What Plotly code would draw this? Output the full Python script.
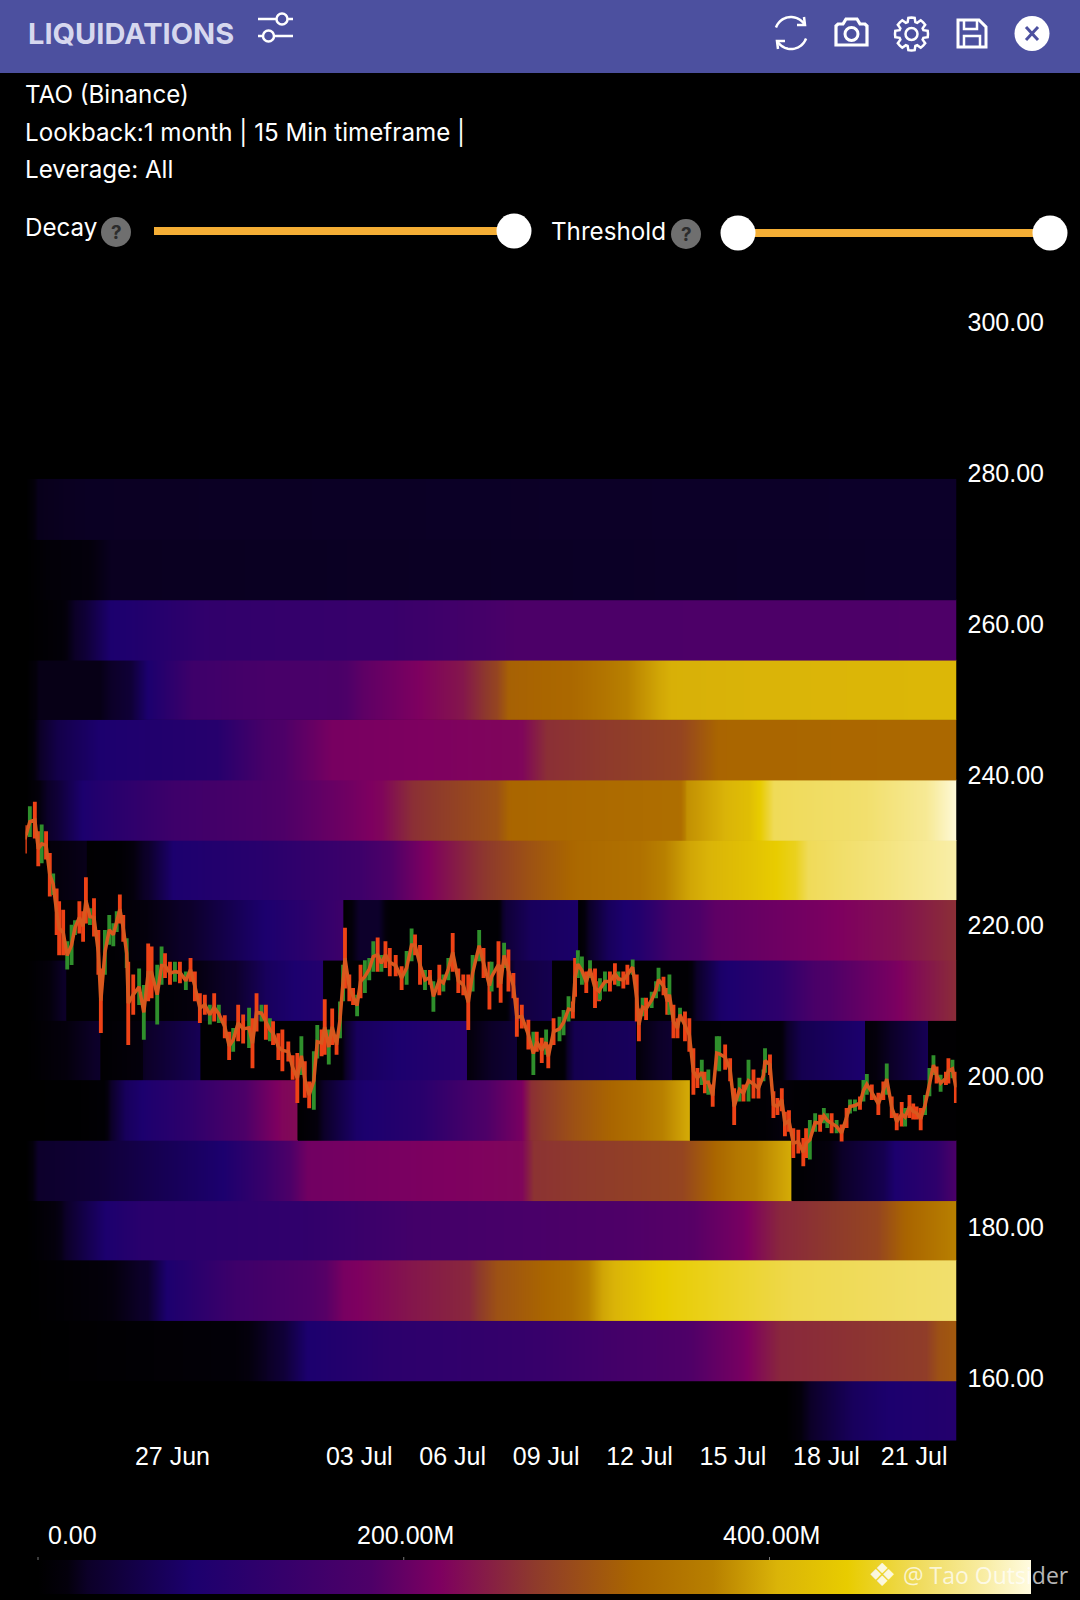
import math
import pandas as pd
import plotly.graph_objects as go

W, H = 1080, 1600

# ---- data -------------------------------------------------------------
# day numbers count from 1 June (27 = 27 Jun, 33 = 3 Jul, 51 = 21 Jul)
BASE = pd.Timestamp("2024-06-01")
tick_days = [27, 33, 36, 39, 42, 45, 48, 50.82]
tick_labels = ["27 Jun", "03 Jul", "06 Jul", "09 Jul", "12 Jul", "15 Jul", "18 Jul", "21 Jul"]
x_range_days = [22.28, 52.18]
price_ticks = [160, 180, 200, 220, 240, 260, 280, 300]
price_range = [151.64, 305.65]
colorbar_ticks = [0, 200, 400]
colorbar_labels = ["0.00", "200.00M", "400.00M"]
value_max = 543

band_edges = [151.7, 159.6, 167.6, 175.6, 183.5, 191.5, 199.5, 207.4, 215.4,
              223.4, 231.3, 239.3, 247.3, 255.2, 263.2, 271.2, 279.2]

# liquidation value (in millions) per price band; a repeated day is a reset
band0_days = [22.28, 46.7, 47.7, 48.85, 50.05, 52.18]
band0_vals = [0, 0, 35, 70, 85, 100]
band1_days = [22.28, 29, 30, 30.55, 31.35, 33.9, 38.4, 43.7, 45.3, 46.5, 51.2, 51.6, 52.18]
band1_vals = [0, 10, 25, 40, 85, 115, 135, 185, 215, 255, 275, 300, 310]
band2_days = [22.28, 24.66, 26.2, 26.8, 29, 31.9, 32.5, 34.7, 36.5, 37.4, 39.8, 40.8, 42.55, 43, 46.9, 52.18]
band2_vals = [0, 12, 30, 85, 150, 190, 215, 240, 255, 300, 340, 395, 440, 445, 475, 490]
band3_days = [22.28, 23.4, 24.26, 24.85, 26, 31.15, 34.7, 43.7, 45.3, 46.5, 49.6, 50.4, 52.18]
band3_vals = [0, 20, 60, 85, 110, 125, 160, 190, 215, 255, 285, 320, 370]
band4_days = [22.28, 22.7, 24.66, 28.6, 29.97, 31.35, 38.2, 38.6, 43.35, 44.5, 45.1, 46.89, 46.89, 48, 49.8, 50.2, 51.5, 52.18]
band4_vals = [0, 30, 40, 85, 140, 210, 225, 265, 285, 330, 355, 400, 2, 15, 60, 85, 120, 180]
band5_days = [22.28, 24, 24.8, 25.5, 26.2, 27.5, 29, 30.5, 31.03, 31.03, 31.6, 32.9, 35, 36.65, 38.2, 38.5, 39.9, 42, 43.62, 43.62, 46, 46.5, 47, 52.18]
band5_vals = [0, 2, 6, 70, 90, 120, 170, 225, 230, 2, 15, 80, 110, 170, 215, 262, 300, 345, 400, 2, 5, 15, 5, 2]
band6_days = [22.28, 23.2, 24.7, 24.7, 26.05, 26.05, 27.9, 27.9, 31.5, 32.4, 32.9, 36.46, 36.46, 38.07, 38.07, 39.5, 39.9, 41.9, 41.9, 43.05, 43.05, 46.5, 47.2, 49.25, 49.25, 50, 51.27, 51.27, 52.18]
band6_vals = [0, 12, 30, 3, 15, 25, 65, 3, 5, 10, 70, 110, 15, 40, 3, 5, 60, 70, 15, 35, 3, 10, 60, 85, 10, 25, 65, 3, 3]
band7_days = [22.28, 22.9, 23.6, 23.6, 26, 27, 29, 30, 31.84, 31.84, 37.7, 38, 39.2, 39.2, 43.5, 44.6, 46.5, 47.6, 50.1, 52.18]
band7_vals = [0, 12, 30, 3, 5, 10, 30, 70, 100, 3, 5, 45, 60, 3, 5, 80, 120, 175, 215, 260]
band8_days = [22.28, 23.5, 25, 26.3, 27.56, 29.5, 31.1, 32.5, 32.5, 33, 33.6, 34, 37.4, 37.7, 38.5, 40.03, 40.03, 41, 42, 43, 44.4, 47.7, 50.3, 52.18]
band8_vals = [0, 3, 5, 18, 30, 75, 110, 150, 2, 30, 30, 5, 5, 40, 70, 80, 3, 70, 100, 160, 195, 215, 235, 262]
band9_days = [22.28, 23.07, 23.07, 24.25, 24.25, 25.3, 26.2, 27, 30, 33, 35, 36.7, 38.4, 40, 42, 43.6, 45.5, 47, 47.4, 50, 52.18]
band9_vals = [0, 0, 15, 22, 3, 5, 30, 85, 110, 150, 215, 262, 300, 330, 345, 395, 425, 455, 480, 500, 520]
band10_days = [22.28, 23.3, 24.1, 24.66, 27, 29.97, 32.7, 33.7, 34.7, 37.4, 37.8, 43.3, 43.5, 45.5, 45.9, 46.3, 49.25, 51.2, 52.18]
band10_vals = [0, 40, 85, 100, 150, 175, 210, 225, 262, 300, 325, 340, 380, 420, 445, 480, 490, 510, 540]
band11_days = [22.28, 22.7, 23.3, 24.66, 28.4, 29.97, 32.1, 38.2, 39, 43.3, 44.5, 52.18]
band11_vals = [0, 25, 55, 85, 105, 170, 215, 225, 262, 285, 325, 330]
band12_days = [22.28, 22.7, 24.66, 25.64, 26.2, 27.6, 29.97, 32.3, 33.1, 34.9, 36.3, 37.4, 37.8, 39.8, 40.8, 41.6, 42.6, 43, 52.18]
band12_vals = [0, 20, 20, 40, 85, 150, 170, 175, 195, 220, 240, 285, 320, 330, 350, 370, 395, 402, 410]
band13_days = [22.28, 23.4, 24.2, 25, 26, 28, 32, 33.9, 37, 38, 52.18]
band13_vals = [0, 10, 40, 85, 95, 125, 135, 140, 165, 178, 182]
band14_days = [22.28, 22.98, 24.25, 25, 52.18]
band14_vals = [0, 10, 15, 24, 28]
band15_days = [22.28, 22.65, 24, 52.18]
band15_vals = [0, 22, 25, 28]

# price candles: day, high, low, up (1) or down (0)
candle_days = [22.26,22.42,22.58,22.69,22.80,22.94,23.06,23.17,23.28,23.36,23.49,23.62,23.76,23.87,24.01,24.13,24.22,24.35,24.48,24.62,24.70,24.83,24.97,25.10,25.21,25.31,25.42,25.53,25.58,25.74,25.93,26.08,26.22,26.33,26.51,26.65,26.76,26.92,27.08,27.24,27.43,27.58,27.72,27.88,28.04,28.20,28.34,28.49,
  28.68,28.82,28.95,29.11,29.27,29.46,29.57,29.70,29.86,30.00,30.13,30.23,30.40,30.53,30.72,30.86,31.01,31.14,31.25,31.39,31.54,31.65,31.79,31.89,32.02,32.13,32.27,32.38,32.48,32.54,32.68,32.80,32.93,33.04,33.18,33.32,33.45,33.59,33.71,33.84,33.98,34.17,34.36,34.52,
  34.68,34.79,34.95,35.11,35.27,35.38,35.57,35.70,35.86,36.00,36.18,36.34,36.50,36.64,36.85,36.99,37.18,37.25,37.47,37.54,37.65,37.79,37.95,38.06,38.22,38.43,38.59,38.70,38.86,39.00,39.07,39.24,39.43,39.56,39.72,39.86,39.93,40.02,40.15,40.29,40.41,40.57,40.70,
  40.73,40.89,41.05,41.21,41.32,41.48,41.61,41.78,41.91,41.98,42.10,42.21,42.39,42.53,42.61,42.77,42.89,42.96,43.09,43.22,43.30,43.46,43.60,43.73,43.86,44.00,44.10,44.21,44.35,44.48,44.56,44.75,44.91,45.04,45.21,45.34,45.50,45.66,45.82,45.98,46.03,46.19,46.30,46.43,46.57,46.67,46.80,
  46.94,47.10,47.26,47.35,47.47,47.64,47.80,47.92,48.03,48.17,48.33,48.49,48.65,48.76,48.92,49.08,49.19,49.30,49.46,49.67,49.83,49.94,50.10,50.26,50.42,50.53,50.67,50.79,50.90,51.03,51.17,51.31,51.44,51.54,51.67,51.84,51.92,52.05,52.16]
candle_high = [233.1,235.6,236.2,232.3,233.2,232.3,229.4,226.7,224.7,223.0,221.9,217.7,219.9,220.5,223.0,221.7,226.2,222.1,223.4,219.2,214.1,219.2,221.2,220.1,221.7,223.9,221.2,218.1,215.0,213.3,214.1,211.9,217.4,217.0,214.6,217.0,216.1,215.0,215.0,215.0,213.7,215.5,213.7,210.8,210.6,209.3,210.8,209.3,
  207.9,205.7,206.2,209.3,208.0,208.9,207.5,210.8,209.3,209.3,207.5,207.1,205.5,206.0,204.4,202.6,202.9,205.1,201.8,199.1,203.1,206.6,206.0,210.0,206.0,208.8,205.3,209.7,214.6,219.5,213.3,211.5,210.6,214.6,215.2,215.5,217.7,218.2,215.9,217.7,216.8,215.9,214.4,216.4,
  219.4,218.6,217.2,213.9,213.9,212.4,214.6,213.3,215.5,218.8,214.1,213.3,213.3,215.9,219.2,216.8,215.0,215.0,217.7,214.6,217.5,216.6,213.5,210.2,209.3,207.3,205.7,205.7,204.9,206.0,204.0,207.5,207.7,208.6,210.4,209.7,215.5,216.5,215.7,213.7,215.2,214.1,212.4,
  212.8,213.7,213.7,214.8,213.7,213.7,214.6,215.3,213.3,208.8,210.2,210.2,211.0,212.4,214.2,213.0,211.5,213.3,209.3,207.5,208.9,208.4,207.5,203.5,200.9,202.0,200.4,200.7,198.7,205.1,205.1,204.0,202.2,198.2,199.6,198.7,202.0,200.7,199.6,200.7,203.5,202.7,197.8,196.9,198.2,195.1,195.3,
  192.9,192.7,191.6,192.9,194.0,194.9,194.7,195.6,194.9,194.9,194.0,193.4,195.6,196.7,196.7,197.1,199.3,200.1,198.7,197.6,199.1,201.5,197.1,194.9,196.4,195.6,197.3,196.2,195.8,195.6,197.3,200.9,202.6,201.1,200.0,200.4,202.2,202.0,200.4]
candle_low = [229.8,232.0,231.8,228.1,228.5,229.0,224.1,224.3,219.0,216.3,216.3,214.4,215.0,219.0,219.2,218.1,220.5,220.3,218.8,213.7,206.0,213.7,217.7,217.5,219.4,220.5,218.1,214.6,204.4,208.4,209.7,205.1,210.2,210.6,207.1,212.4,213.3,212.4,212.8,212.6,211.7,212.8,210.2,207.3,208.4,207.1,207.5,207.3,
  205.3,202.4,203.5,204.9,204.6,204.0,201.3,206.2,207.5,205.1,204.9,204.4,202.4,200.9,202.2,199.8,196.7,200.4,197.4,196.0,195.8,202.6,202.9,203.1,201.8,204.4,203.1,205.3,210.2,211.9,210.2,209.7,208.2,210.6,211.3,213.0,214.1,214.1,214.1,214.6,213.5,213.5,211.7,212.4,
  215.5,216.3,212.4,211.7,212.4,208.8,211.0,211.5,213.0,214.1,211.3,211.0,206.4,211.5,215.5,213.3,209.1,211.5,212.0,210.0,214.6,211.5,210.6,205.5,206.6,203.8,200.4,203.5,202.0,203.1,201.3,204.4,204.9,205.7,207.5,207.9,210.8,213.3,212.4,211.3,213.3,209.3,210.2,
  210.4,211.5,211.5,212.4,212.2,211.9,212.4,213.7,207.5,204.9,208.2,207.7,209.3,210.6,211.5,211.0,208.4,208.4,205.3,205.3,207.5,204.9,203.5,197.8,198.7,199.1,198.0,197.8,196.2,201.1,200.9,201.1,199.6,193.8,196.9,196.9,196.9,197.3,197.3,199.6,200.7,200.4,194.7,195.1,195.6,192.3,192.9,
  189.4,190.0,188.3,189.4,189.2,192.9,192.9,194.0,193.4,192.7,192.7,191.6,193.4,195.3,195.6,195.8,196.9,197.8,197.1,195.1,197.1,197.8,194.7,193.1,193.6,193.6,194.7,194.5,194.5,193.1,195.1,197.6,200.4,199.3,198.2,199.1,199.3,200.0,196.7]
candle_up = [0,1,0,0,1,0,0,1,0,0,0,1,1,1,0,0,0,1,0,0,0,1,1,1,1,0,0,1,0,0,1,1,0,0,1,1,0,0,1,0,1,0,0,0,0,1,0,1,
  0,0,1,0,0,1,0,0,1,0,1,0,0,0,0,0,0,1,0,0,1,1,0,0,1,0,0,1,1,0,0,0,1,0,1,1,1,0,1,0,0,0,0,1,
  1,0,0,1,0,1,0,1,1,0,0,0,0,1,1,0,0,1,0,0,1,0,0,0,0,0,1,0,0,1,0,0,1,1,1,0,0,1,1,0,1,0,0,1,
  1,0,0,1,0,0,1,0,0,1,0,1,1,1,0,0,1,0,0,1,0,0,0,0,1,0,1,0,1,1,0,0,0,1,0,1,0,0,1,1,0,0,0,0,0,0,0,
  0,0,0,1,1,0,1,1,0,1,0,0,1,1,0,1,1,0,0,0,1,0,0,0,1,0,0,0,0,1,1,1,0,1,0,0,1,0,0]

bands = [(band0_days, band0_vals), (band1_days, band1_vals), (band2_days, band2_vals),
         (band3_days, band3_vals), (band4_days, band4_vals), (band5_days, band5_vals),
         (band6_days, band6_vals), (band7_days, band7_vals), (band8_days, band8_vals),
         (band9_days, band9_vals), (band10_days, band10_vals), (band11_days, band11_vals),
         (band12_days, band12_vals), (band13_days, band13_vals), (band14_days, band14_vals),
         (band15_days, band15_vals)]

# ---- style ------------------------------------------------------------
HEADER = "#4c509f"
ORANGE = "#f4ae35"
WHITE = "#ffffff"
colorscale = [[0.0, "#000000"], [0.03, "#04000c"], [0.05, "#0c0028"], [0.156, "#1c006e"],
              [0.336, "#4e0068"], [0.405, "#7e0060"], [0.50, "#8e3a2c"], [0.60, "#aa6600"],
              [0.68, "#b88000"], [0.745, "#dab408"], [0.815, "#e8cc00"], [0.89, "#f0dc60"],
              [0.95, "#f8eca0"], [1.0, "#fffbe0"]]

BAR_LEFT, BAR_LEN, BAR_TOP, BAR_BOTTOM = 38, 993, 1560, 1594


def when(d):
    return BASE + pd.Timedelta(days=d - 1)


def fx(x):
    return x / W


def fy(y):
    return 1 - y / H


fig = go.Figure()

# heatmap bands, one smoothed strip per unbroken run of days
for i, (days, vals) in enumerate(bands):
    lo, hi = band_edges[i], band_edges[i + 1]
    runs, start = [], 0
    for k in range(1, len(days)):
        if days[k] == days[k - 1]:
            runs.append((start, k))
            start = k
    runs.append((start, len(days)))
    for a, b in runs:
        d, v = days[a:b], vals[a:b]
        xs = [d[0]] + [d[0] + 0.002] + d[1:-1] + [d[-1] - 0.002] + [d[-1]]
        row = [v[0]] + [v[0]] + v[1:-1] + [v[-1]] + [v[-1]]
        fig.add_trace(go.Heatmap(
            x=[when(q) for q in xs],
            y=[lo - 0.06, lo - 0.058, hi + 0.058, hi + 0.06],
            z=[row, row, row, row],
            zsmooth="best", coloraxis="coloraxis", hoverinfo="skip"))

candle_x = [when(d) for d in candle_days]
# body of the price path, so the candles read as one continuous ribbon
fig.add_trace(go.Scatter(
    x=candle_x, y=[(a + b) / 2 for a, b in zip(candle_high, candle_low)], mode="lines",
    line=dict(color="#d8581e", width=3.5), hoverinfo="skip", showlegend=False))
fig.add_trace(go.Candlestick(
    x=candle_x,
    open=[lo if up else hi for hi, lo, up in zip(candle_high, candle_low, candle_up)],
    close=[hi if up else lo for hi, lo, up in zip(candle_high, candle_low, candle_up)],
    high=candle_high, low=candle_low, whiskerwidth=0,
    increasing=dict(line=dict(color="#2f8f2c", width=3.4), fillcolor="#2f8f2c"),
    decreasing=dict(line=dict(color="#ee4216", width=3.4), fillcolor="#ee4216"),
    showlegend=False))

shapes = []
annotations = []


def text(x, y, s, size, color=WHITE, family="Inter", anchor="left", **kw):
    annotations.append(dict(xref="paper", yref="paper", x=fx(x), y=fy(y), text=s, showarrow=False,
                            xanchor=anchor, yanchor="middle", align="left",
                            font=dict(family=family, size=size, color=color), **kw))


def circle(cx, cy, r, fill=None, line=None, w=0):
    shapes.append(dict(type="circle", xref="paper", yref="paper", x0=fx(cx - r), x1=fx(cx + r),
                       y0=fy(cy + r), y1=fy(cy - r), fillcolor=fill or "rgba(0,0,0,0)",
                       line=dict(color=line or "rgba(0,0,0,0)", width=w), layer="above"))


def poly(pts, color=WHITE, w=3, close=False, fill=None):
    d = "M" + " L".join(f"{fx(x):.5f},{fy(y):.5f}" for x, y in pts) + (" Z" if close else "")
    shapes.append(dict(type="path", xref="paper", yref="paper", path=d,
                       line=dict(color=color, width=w), fillcolor=fill or "rgba(0,0,0,0)", layer="above"))


def arc(cx, cy, r, a0, a1, n=24):
    return [(cx + r * math.cos(math.radians(a0 + (a1 - a0) * i / n)),
             cy + r * math.sin(math.radians(a0 + (a1 - a0) * i / n))) for i in range(n + 1)]


# header
shapes.append(dict(type="rect", xref="paper", yref="paper", x0=0, x1=1, y0=fy(73), y1=1,
                   fillcolor=HEADER, line=dict(width=0), layer="above"))
text(26, 33, "<b>LIQUIDATIONS</b>", 29, "#d6d7ee")
# filter icon
poly([(258, 19), (293, 19)], w=2.5)
poly([(258, 36), (293, 36)], w=2.5)
circle(282, 19, 5.5, HEADER, WHITE, 2.5)
circle(268.5, 36, 5.5, HEADER, WHITE, 2.5)
# refresh icon
poly(arc(791, 33, 16, 200, 325), w=2.5)
poly(arc(791, 33, 16, 20, 150), w=2.5)
poly([(804, 17), (805, 25), (797, 25)], w=2.5)
poly([(778, 49), (777, 41), (785, 41)], w=2.5)
# camera icon
poly([(838, 24), (843, 24), (846, 19), (857, 19), (860, 24), (865, 24), (867, 26), (867, 45), (836, 45), (836, 26)], w=3.2, close=True)
circle(851.5, 34, 6.5, None, WHITE, 3)
# gear icon
gear = []
for i in range(8):
    a = i * 45
    gear += arc(911.5, 34, 16.5, a - 11, a + 11, 2) + arc(911.5, 34, 12.5, a + 18, a + 27, 1)
poly(gear, w=2.5, close=True)
circle(911.5, 34, 6, None, WHITE, 2.5)
# save icon
poly([(958, 20), (979, 20), (986, 27), (986, 47), (958, 47)], w=3, close=True)
poly([(964, 20), (964, 29), (977, 29), (977, 20)], w=2.5)
poly([(964, 47), (964, 36), (980, 36), (980, 47)], w=2.5)
# close icon
circle(1032, 33.5, 17.5, WHITE)
poly([(1026, 27), (1038, 40)], HEADER, 3)
poly([(1038, 27), (1026, 40)], HEADER, 3)

# info lines
text(23, 95, "TAO (Binance)", 24.2)
text(23, 132.5, "Lookback:1 month | 15 Min timeframe |", 24.2)
text(23, 170, "Leverage: All", 24.2)

# sliders
text(23, 228, "Decay", 24.2)
circle(116, 232, 15, "#6f6f6f")
text(116, 232, "<b>?</b>", 19, "#2c2c2c", anchor="center")
poly([(154, 231), (500, 231)], ORANGE, 8)
circle(514, 231, 17.5, WHITE)
text(549, 231, "Threshold", 24.2)
circle(686, 234, 15, "#6f6f6f")
text(686, 234, "<b>?</b>", 19, "#2c2c2c", anchor="center")
poly([(738, 233), (1050, 233)], ORANGE, 8)
circle(738, 233, 17.5, WHITE)
circle(1050, 233, 17.5, WHITE)

# colorbar tick marks and labels sit above the bar
for v, lab in zip(colorbar_ticks, colorbar_labels):
    tx = BAR_LEFT + BAR_LEN * v / value_max
    poly([(tx, BAR_TOP - 3), (tx, BAR_TOP)], "#777777", 1)
    text(72 if v == 0 else tx + 2, 1535, lab, 25, WHITE, "Liberation Sans", anchor="center")

# watermark
text(882, 1575, "❖", 32, "rgba(255,255,255,0.85)", "DejaVu Sans", anchor="center")
text(901, 1575, "@ Tao Outsider", 23, "rgba(255,255,255,0.72)", "Open Sans")

fig.update_layout(
    width=W, height=H, autosize=False, showlegend=False,
    margin=dict(l=0, r=0, t=0, b=0, pad=0, autoexpand=False),
    paper_bgcolor="#000000", plot_bgcolor="#000000",
    font=dict(family="Liberation Sans", size=25, color=WHITE),
    shapes=shapes, annotations=annotations,
    xaxis=dict(domain=[25.5 / W, 956.5 / W], type="date", range=[when(x_range_days[0]), when(x_range_days[1])],
               tickmode="array", tickvals=[when(d) for d in tick_days], ticktext=tick_labels,
               showgrid=False, zeroline=False, showline=False, ticks="", rangeslider=dict(visible=False),
               ticklabelstandoff=-2,
               tickfont=dict(family="Liberation Sans", size=25, color=WHITE), tickangle=0),
    yaxis=dict(domain=[1 - 1441 / H, 1 - 280 / H], range=price_range, side="right",
               tickmode="array", tickvals=price_ticks, ticktext=[f"{v:.2f}" for v in price_ticks],
               showgrid=False, zeroline=False, showline=False, ticks="", ticklabelstandoff=10,
               tickfont=dict(family="Liberation Sans", size=25, color=WHITE)),
    coloraxis=dict(cmin=0, cmax=value_max, colorscale=colorscale,
                   colorbar=dict(orientation="h", x=BAR_LEFT / W, xanchor="left", y=fy(BAR_BOTTOM), yanchor="bottom",
                                 lenmode="pixels", len=BAR_LEN, thickness=BAR_BOTTOM - BAR_TOP, thicknessmode="pixels",
                                 xpad=0, ypad=0, outlinewidth=0, borderwidth=0,
                                 ticks="", showticklabels=False)),
)

fig.write_html("out.html", config=dict(displayModeBar=False),
               post_script="document.body.style.margin='0';document.body.style.background='#000';")
